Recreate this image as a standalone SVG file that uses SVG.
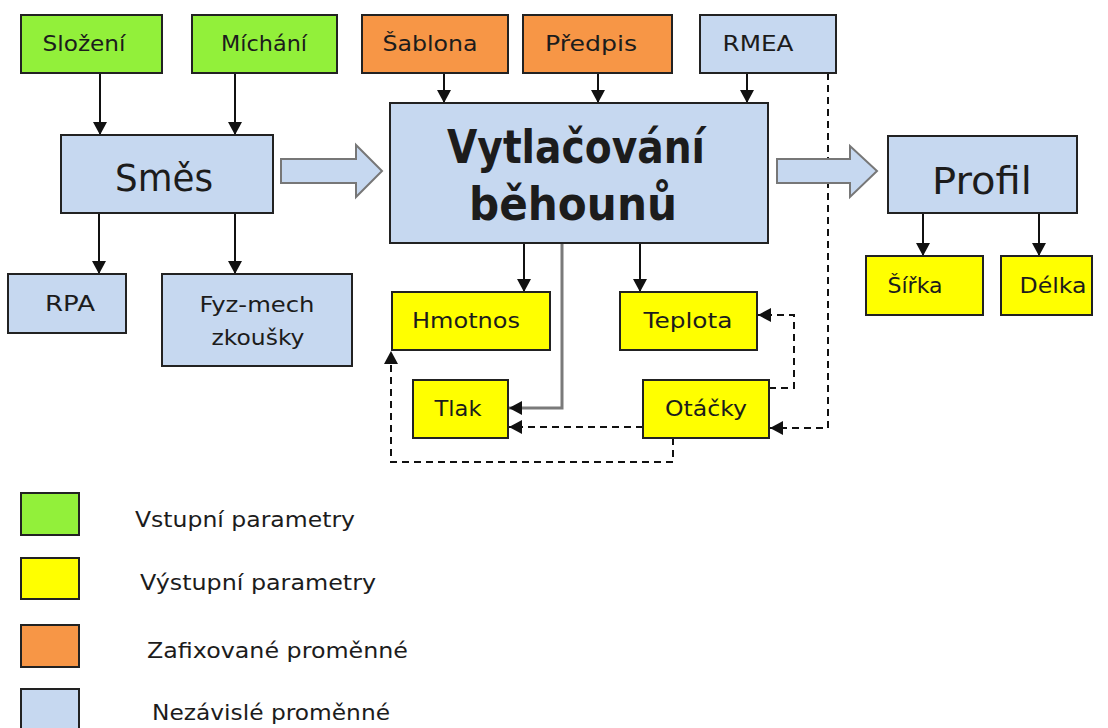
<svg xmlns="http://www.w3.org/2000/svg" width="1108" height="728" viewBox="0 0 1108 728">
<style>
.box{stroke:#222;stroke-width:2}
.g{fill:#92f03a}.y{fill:#ffff00}.o{fill:#f79646}.b{fill:#c6d8f0}
text{font-family:"DejaVu Sans","Liberation Sans",sans-serif;fill:#1c1c1c;text-anchor:middle}
.s{font-size:22px}
.big{font-size:37px}
.hdr{font-size:46px;font-weight:bold}
.leg{font-size:22px;text-anchor:start}
.c{fill:none;stroke:#111;stroke-width:2}
.gr{fill:none;stroke:#7a7a7a;stroke-width:3}
.d{fill:none;stroke:#111;stroke-width:2;stroke-dasharray:7,5}
.ba{fill:#c6d8f0;stroke:#777;stroke-width:2}
</style>
<defs>
<marker id="ah" markerWidth="14" markerHeight="14" refX="13" refY="7" orient="auto" markerUnits="userSpaceOnUse">
<path d="M0,0 L13,7 L0,14 z" fill="#111"/>
</marker>
</defs>
<rect width="1108" height="728" fill="#fff"/>

<g id="connectors">
<path class="c" d="M100 73 V135" marker-end="url(#ah)"/>
<path class="c" d="M235 73 V135" marker-end="url(#ah)"/>
<path class="c" d="M99 213 V274" marker-end="url(#ah)"/>
<path class="c" d="M235 213 V274" marker-end="url(#ah)"/>
<path class="c" d="M444 73 V103" marker-end="url(#ah)"/>
<path class="c" d="M598 73 V103" marker-end="url(#ah)"/>
<path class="c" d="M747 73 V103" marker-end="url(#ah)"/>
<path class="c" d="M524 243 V292" marker-end="url(#ah)"/>
<path class="c" d="M640 243 V292" marker-end="url(#ah)"/>
<path class="gr" d="M562 243 V408 H509" marker-end="url(#ah)"/>
<path class="c" d="M923 213 V256" marker-end="url(#ah)"/>
<path class="c" d="M1039 213 V256" marker-end="url(#ah)"/>
<path class="d" d="M828 73 V428 H770" marker-end="url(#ah)"/>
<path class="d" d="M769 388 H794 V315 H758" marker-end="url(#ah)"/>
<path class="d" d="M643 427 H509" marker-end="url(#ah)"/>
<path class="d" d="M673 438 V462 H391 V351" marker-end="url(#ah)"/>
<path class="ba" d="M281 159 H356 V145 L382 171 L356 197 V183 H281 Z"/>
<path class="ba" d="M777 159 H850 V146 L877 171 L850 197 V183 H777 Z"/>
</g>

<g id="slozeni"><rect class="box g" x="21" y="15" width="141" height="58"/><text class="s" x="84" y="51" textLength="83" lengthAdjust="spacingAndGlyphs">Složení</text></g>
<g id="michani"><rect class="box g" x="192" y="15" width="145" height="58"/><text class="s" x="264" y="51" textLength="86" lengthAdjust="spacingAndGlyphs">Míchání</text></g>
<g id="sablona"><rect class="box o" x="362" y="15" width="146" height="58"/><text class="s" x="430" y="51" textLength="95" lengthAdjust="spacingAndGlyphs">Šablona</text></g>
<g id="predpis"><rect class="box o" x="523" y="15" width="149" height="58"/><text class="s" x="591" y="51" textLength="92" lengthAdjust="spacingAndGlyphs">Předpis</text></g>
<g id="rmea"><rect class="box b" x="700" y="15" width="136" height="58"/><text class="s" x="758" y="51" textLength="71" lengthAdjust="spacingAndGlyphs">RMEA</text></g>

<g id="smes"><rect class="box b" x="61" y="135" width="212" height="78"/><text class="big" x="164" y="191" textLength="98" lengthAdjust="spacingAndGlyphs">Směs</text></g>
<g id="vytlacovani"><rect class="box b" x="390" y="103" width="378" height="140"/>
<text class="hdr" x="576" y="163" textLength="258" lengthAdjust="spacingAndGlyphs">Vytlačování</text>
<text class="hdr" x="573" y="220" textLength="208" lengthAdjust="spacingAndGlyphs">běhounů</text></g>
<g id="profil"><rect class="box b" x="888" y="136" width="189" height="77"/><text class="big" x="982" y="194" textLength="100" lengthAdjust="spacingAndGlyphs">Profil</text></g>

<g id="rpa"><rect class="box b" x="8" y="274" width="118" height="59"/><text class="s" x="70" y="311" textLength="50" lengthAdjust="spacingAndGlyphs">RPA</text></g>
<g id="fyzmech"><rect class="box b" x="162" y="274" width="190" height="92"/>
<text class="s" x="257" y="312" textLength="115" lengthAdjust="spacingAndGlyphs">Fyz-mech</text>
<text class="s" x="258" y="345" textLength="93" lengthAdjust="spacingAndGlyphs">zkoušky</text></g>

<g id="hmotnos"><rect class="box y" x="392" y="292" width="158" height="58"/><text class="s" x="466" y="328" textLength="108" lengthAdjust="spacingAndGlyphs">Hmotnos</text></g>
<g id="teplota"><rect class="box y" x="620" y="292" width="137" height="58"/><text class="s" x="688" y="328" textLength="89" lengthAdjust="spacingAndGlyphs">Teplota</text></g>
<g id="tlak"><rect class="box y" x="413" y="380" width="95" height="58"/><text class="s" x="458" y="416" textLength="47" lengthAdjust="spacingAndGlyphs">Tlak</text></g>
<g id="otacky"><rect class="box y" x="643" y="380" width="126" height="58"/><text class="s" x="706" y="416" textLength="82" lengthAdjust="spacingAndGlyphs">Otáčky</text></g>
<g id="sirka"><rect class="box y" x="866" y="256" width="117" height="59"/><text class="s" x="915" y="293" textLength="55" lengthAdjust="spacingAndGlyphs">Šířka</text></g>
<g id="delka"><rect class="box y" x="1001" y="256" width="91" height="59"/><text class="s" x="1053" y="293" textLength="67" lengthAdjust="spacingAndGlyphs">Délka</text></g>

<g id="legend">
<rect class="box g" x="21" y="493" width="58" height="42"/>
<rect class="box y" x="21" y="558" width="58" height="41"/>
<rect class="box o" x="21" y="625" width="58" height="42"/>
<rect class="box b" x="21" y="689" width="58" height="50"/>
<text class="leg" x="135" y="527" textLength="220" lengthAdjust="spacingAndGlyphs">Vstupní parametry</text>
<text class="leg" x="140" y="590" textLength="236" lengthAdjust="spacingAndGlyphs">Výstupní parametry</text>
<text class="leg" x="147" y="658" textLength="261" lengthAdjust="spacingAndGlyphs">Zafixované proměnné</text>
<text class="leg" x="152" y="720" textLength="238" lengthAdjust="spacingAndGlyphs">Nezávislé proměnné</text>
</g>
</svg>
